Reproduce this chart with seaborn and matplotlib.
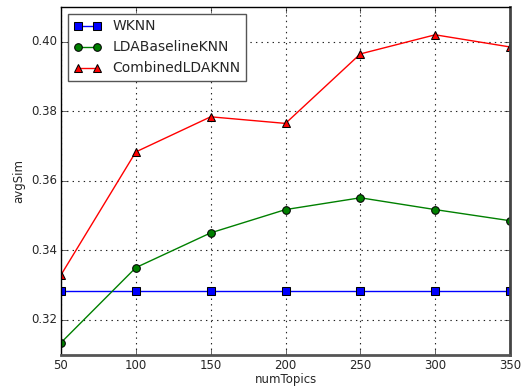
import numpy as np
import pandas as pd
import matplotlib
matplotlib.use('Agg')
import matplotlib.pyplot as plt
import seaborn as sb

# data
num_topics = [50, 100, 150, 200, 250, 300, 350]
wknn = [0.3283, 0.3283, 0.3283, 0.3283, 0.3283, 0.3283, 0.3283]
lda_baseline = [0.3134, 0.3350, 0.3450, 0.3517, 0.3551, 0.3517, 0.3485]
combined = [0.3329, 0.3683, 0.3784, 0.3765, 0.3965, 0.4020, 0.3985]
series_names = ['WKNN', 'LDABaselineKNN', 'CombinedLDAKNN']

plt.style.use('classic')
sb.set_style('ticks', {'xtick.direction': 'in', 'ytick.direction': 'in'})
plt.rcParams['font.family'] = ['DejaVu Sans']

df = pd.DataFrame({'numTopics': num_topics * 3,
                   'avgSim': wknn + lda_baseline + combined,
                   'method': sum([[n] * len(num_topics) for n in series_names], [])})

fig, ax = plt.subplots(figsize=(5.23, 3.87), dpi=100)
fig.subplots_adjust(left=61/523, right=510/523, top=1-7/387, bottom=1-354.5/387)

styles = {'WKNN': ('blue', 's'), 'LDABaselineKNN': ('green', 'o'), 'CombinedLDAKNN': ('red', '^')}
for name in series_names:
    col, mk = styles[name]
    sb.lineplot(data=df[df.method == name], x='numTopics', y='avgSim', ax=ax,
                color=col, marker=mk, markersize=5.5, markeredgecolor='black',
                markerfacecolor=col, linewidth=1, label=name)

ax.set_xlim(50, 350)
ax.set_ylim(0.31, 0.41)
ax.set_yticks([0.32, 0.34, 0.36, 0.38, 0.40])
ax.set_yticklabels(['0.32', '0.34', '0.36', '0.38', '0.40'])
ax.set_xticks(num_topics)
ax.grid(True, color='#222222', linestyle=(0, (1, 3)), linewidth=0.8)
ax.tick_params(labelsize=8.5, direction='in', length=4, pad=3, top=True, right=True)
ax.set_xlabel('numTopics', fontsize=8.5, labelpad=1)
ax.set_ylabel('avgSim', fontsize=8.5, labelpad=4)
for side, s in ax.spines.items():
    s.set_color('black')
    s.set_linewidth(1)
ax.spines['bottom'].set_color('#555555')
ax.spines['bottom'].set_linewidth(2)
ax.spines['right'].set_color('#444444')
ax.spines['right'].set_linewidth(2)

leg = ax.legend(loc='upper left', fontsize=10, numpoints=2, fancybox=False,
                frameon=True, borderaxespad=0.5)
leg.get_frame().set_edgecolor('#555555')
leg.get_frame().set_linewidth(1)

plt.savefig('out.png', dpi=100)
